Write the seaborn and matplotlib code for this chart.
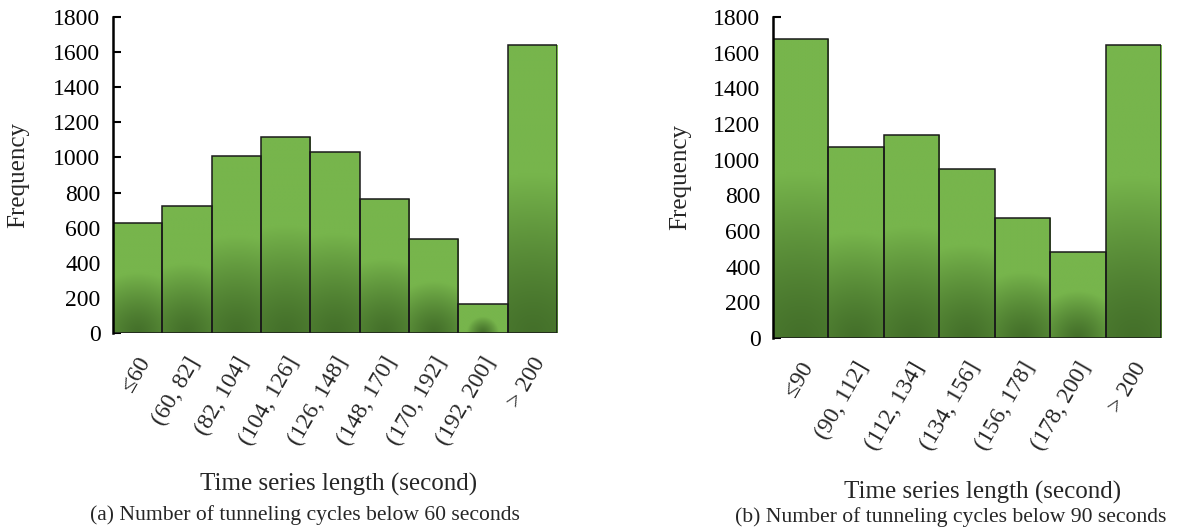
import numpy as np
import pandas as pd
import matplotlib
matplotlib.use("Agg")
import matplotlib.pyplot as plt
from matplotlib.colors import to_rgb
from matplotlib.transforms import ScaledTranslation
import seaborn as sns

# Histogram bins and counts, threshold 60 s
bins_a = ["≤60", "(60, 82]", "(82, 104]", "(104, 126]", "(126, 148]",
          "(148, 170]", "(170, 192]", "(192, 200]", "> 200"]
counts_a = [625, 723, 1007, 1116, 1031, 765, 533, 168, 1641]

# Histogram bins and counts, threshold 90 s
bins_b = ["≤90", "(90, 112]", "(112, 134]", "(134, 156]", "(156, 178]",
          "(178, 200]", "> 200"]
counts_b = [1678, 1073, 1138, 948, 672, 482, 1642]

y_ticks = [0, 200, 400, 600, 800, 1000, 1200, 1400, 1600, 1800]
x_title = "Time series length (second)"
y_title = "Frequency"
caption_a = "(a) Number of tunneling cycles below 60 seconds"
caption_b = "(b) Number of tunneling cycles below 90 seconds"

sns.set_style("white")
plt.rcParams["font.family"] = ["Liberation Serif", "DejaVu Serif"]

LIGHT = np.array(to_rgb("#77b54c"))
DARK = np.array(to_rgb("#44702a"))

W, H = 1194, 529
fig = plt.figure(figsize=(W / 100, H / 100), dpi=100)

# axes boxes in pixels: left, right, top, bottom
boxes = [(113, 557, 17, 333), (773, 1161, 17, 338)]


def shade_bars(ax, n, box):
    """Fill each bar with a radial green gradient centred at its base."""
    left, right, top, bottom = box
    px_x = (right - left) / n
    px_y = (bottom - top) / 1800.0
    for p in list(ax.patches):
        x0, w, h = p.get_x(), p.get_width(), p.get_height()
        if h <= 0:
            continue
        xc = x0 + w / 2
        nx, ny = 80, 200
        xs = np.linspace(x0, x0 + w, nx)
        ys = np.linspace(0, h, ny)
        X, Y = np.meshgrid(xs, ys)
        dx = (X - xc) * px_x
        dy = Y * px_y
        R = 0.55 * h * px_y
        r = np.sqrt(dx ** 2 + dy ** 2) / R
        t = np.clip(r, 0, 1) ** 1.3
        img = DARK[None, None, :] * (1 - t[..., None]) + LIGHT[None, None, :] * t[..., None]
        im = ax.imshow(img, extent=[x0, x0 + w, 0, h], origin="lower",
                       aspect="auto", zorder=2, interpolation="bilinear")
        im.set_clip_path(p)
        p.set_facecolor("none")
        p.set_edgecolor("#1a1a1a")
        p.set_linewidth(1.1)
        p.set_zorder(3)


def panel(box, labels, counts, xlab_x, ylab_x):
    left, right, top, bottom = box
    ax = fig.add_axes([left / W, 1 - bottom / H, (right - left) / W, (bottom - top) / H])
    df = pd.DataFrame({"bin": labels, "count": counts})
    sns.barplot(data=df, x="bin", y="count", ax=ax, width=1.0,
                color="#77b54c", edgecolor="#1a1a1a", linewidth=1.1,
                saturation=1.0)
    n = len(labels)
    shade_bars(ax, n, box)
    ax.set_xlim(-0.5, n - 0.5)
    ax.set_ylim(0, 1800)
    ax.set_yticks(y_ticks)
    ax.set_yticklabels([str(v) for v in y_ticks], fontsize=17)
    ax.tick_params(axis="y", direction="in", length=6, width=1.5, pad=9,
                   left=True, colors="black")
    ax.tick_params(axis="x", length=0, pad=10)
    ax.set_xticks(range(n))
    ax.set_xticklabels(labels, rotation=60, ha="right", va="center",
                       rotation_mode="anchor", fontsize=17)
    shift = ScaledTranslation(8 / 100, -12 / 100, fig.dpi_scale_trans)
    for lab in ax.get_xticklabels():
        lab.set_transform(lab.get_transform() + shift)
    for s in ["top", "right", "bottom"]:
        ax.spines[s].set_visible(False)
    ax.spines["left"].set_linewidth(1.8)
    ax.spines["left"].set_color("black")
    ax.spines["left"].set_zorder(4)
    ax.set_xlabel(x_title, fontsize=18, va="center")
    ax.xaxis.set_label_coords(xlab_x, -0.48)
    ax.set_ylabel(y_title, fontsize=18, va="center")
    ax.yaxis.set_label_coords(ylab_x, 0.5)
    ax.grid(False)
    return ax


panel(boxes[0], bins_a, counts_a, 0.507, -0.214)
panel(boxes[1], bins_b, counts_b, 0.541, -0.24)

fig.text(305 / W, 1 - 515 / H, caption_a, ha="center", va="center", fontsize=15.6)
fig.text(951 / W, 1 - 517 / H, caption_b, ha="center", va="center", fontsize=15.6)

fig.savefig("out.png", dpi=100, facecolor="white")
